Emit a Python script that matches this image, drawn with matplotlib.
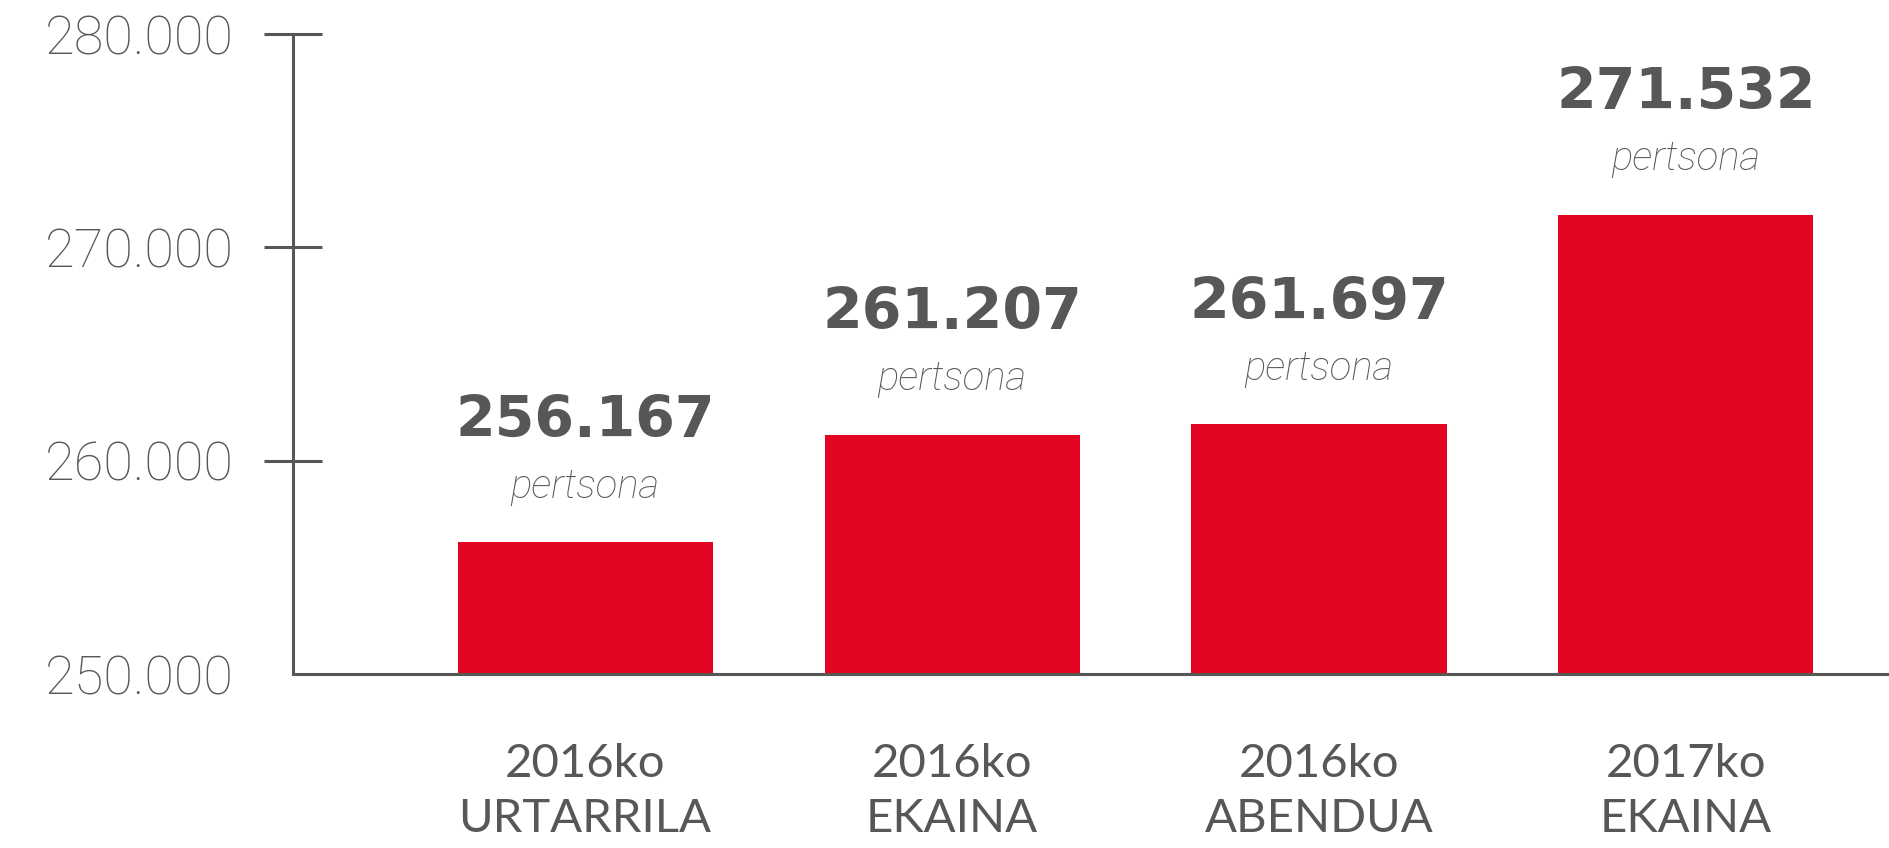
#!/usr/bin/python3
import matplotlib
matplotlib.use('Agg')
import matplotlib.pyplot as plt

# data
periods = ['2016ko\nURTARRILA', '2016ko\nEKAINA', '2016ko\nABENDUA', '2017ko\nEKAINA']
people = [256167, 261207, 261697, 271532]
yticks = [250000, 260000, 270000, 280000]
unit = 'pertsona'

RED = '#e30521'
GREY = '#575756'


def dotted(n):
    ''' 256167 -> 256.167 '''
    return '{:,}'.format(n).replace(',', '.')


def plotBars():
    fig = plt.figure(figsize=(18.9, 8.48), dpi=100)
    ax = fig.add_axes([293 / 1890, 174 / 848, 1 - 293 / 1890, 640 / 848])

    x = range(len(people))
    ax.bar(x, people, width=0.695, color=RED, zorder=2)

    ax.set_ylim(250000, 280000)
    ax.set_xlim(-0.796, 3.556)

    for s in ['top', 'right']:
        ax.spines[s].set_visible(False)
    for s in ['left', 'bottom']:
        ax.spines[s].set_color(GREY)
        ax.spines[s].set_linewidth(2.2)

    ax.set_yticks(yticks)
    ax.set_yticklabels([dotted(t) for t in yticks], fontsize=39,
                       family='Roboto', fontweight='light', color=GREY)
    ax.tick_params(axis='y', direction='inout', length=42, width=2.2,
                   color=GREY, pad=22)
    ax.yaxis.get_major_ticks()[0].tick1line.set_visible(False)

    ax.set_xticks(list(x))
    ax.set_xticklabels(periods, fontsize=34, family='Lato', color=GREY,
                       linespacing=1.38)
    ax.tick_params(axis='x', length=0, pad=50)

    for i, v in enumerate(people):
        ax.annotate(dotted(v), (i, v), xytext=(0, 76), textcoords='offset points',
                    ha='center', va='baseline', fontsize=41, family='DejaVu Sans',
                    fontweight='bold', color=GREY)
        ax.annotate(unit, (i, v), xytext=(0, 32), textcoords='offset points',
                    ha='center', va='baseline', fontsize=29, family='Roboto',
                    fontweight='light', style='italic', color=GREY)

    fig.savefig('out.png', dpi=100)


if __name__ == "__main__":
    plotBars()
